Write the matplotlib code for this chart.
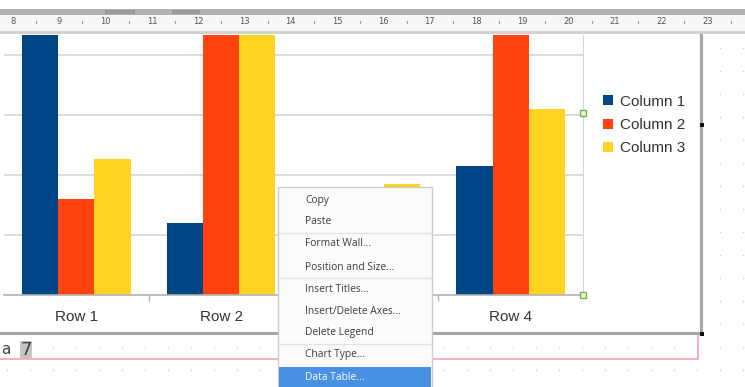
import matplotlib
matplotlib.use("Agg")
import matplotlib.pyplot as plt
import numpy as np
from matplotlib.patches import Rectangle

# chart data (LibreOffice default chart)
rows = ["Row 1", "Row 2", "Row 3", "Row 4"]
series = ["Column 1", "Column 2", "Column 3"]
col1 = [9.1, 2.4, 3.1, 4.3]
col2 = [3.2, 8.8, 1.5, 9.02]
col3 = [4.54, 9.65, 3.7, 6.2]
colors = ["#004586", "#ff420e", "#ffd320"]

ruler_nums = list(range(8, 24))
menu_items = ["Copy", "Paste", "Format Wall...", "Position and Size...",
              "Insert Titles...", "Insert/Delete Axes...", "Delete Legend",
              "Chart Type...", "Data Table..."]
menu_y = [200, 222, 244, 267, 289, 311, 333, 355, 377]
menu_seps = [233, 278, 344]

W, H = 745, 387
fig = plt.figure(figsize=(W / 100, H / 100), dpi=100, facecolor="white")

def fx(px):
    return px / W

def fy(py):
    return 1 - py / H

# background layer: dotted page, chart frame, pink border
bg = fig.add_axes([0, 0, 1, 1], zorder=0)
bg.set_xlim(0, W)
bg.set_ylim(H, 0)
bg.axis("off")
dx = np.arange(7, W, 23)
dy = np.arange(48, H, 23)
gx, gy = np.meshgrid(dx, dy)
bg.scatter(gx.ravel(), gy.ravel(), s=1.2, color="#cfcfcf", lw=0)
bg.add_patch(Rectangle((0, 33), 701, 300, facecolor="white", edgecolor="none"))
bg.plot([0, 698, 698], [359, 359, 335], color="#f2a4ad", lw=1.2)
bg.plot([701, 701], [33, 333], color="#a6a6a6", lw=2.2)
bg.plot([0, 702], [333, 333], color="#a6a6a6", lw=2.2)
bg.text(1, 350, "a", fontsize=11, color="#444444", va="center", ha="left",
        family="DejaVu Sans")
bg.add_patch(Rectangle((20, 341), 12, 17, facecolor="#c4c4c4", edgecolor="none"))
bg.text(21, 350, "7", fontsize=13, color="#444444", va="center", ha="left",
        family="DejaVu Sans")

# the bar chart
left, right, top, bottom = 4, 583, 35, 295
ax = fig.add_axes([fx(left), fy(bottom), fx(right - left), (bottom - top) / H], zorder=1)
x = np.arange(len(rows))
width = 0.25
ax.bar(x - width, col1, width, color=colors[0], label=series[0], zorder=2)
ax.bar(x, col2, width, color=colors[1], label=series[1], zorder=2)
ax.bar(x + width, col3, width, color=colors[2], label=series[2], zorder=2)
ax.set_xlim(-0.5, 3.5)
ax.set_ylim(0, (bottom - top) / 30)
ax.set_yticks([2, 4, 6, 8])
ax.yaxis.grid(True, color="#d6d6d6", lw=1.2)
ax.tick_params(axis="y", length=0, labelleft=False)
ax.set_xticks(x)
ax.set_xticklabels(rows, fontsize=11, color="#333333", family="Liberation Sans")
# Row 3's label sits under the context menu
ax.get_xticklabels()[2].set_visible(False)
ax.set_xticks([0.5, 1.5, 2.5], minor=True)
ax.tick_params(axis="x", which="major", length=0, pad=11)
ax.tick_params(axis="x", which="minor", length=4, color="#b3b3b3", width=1)
for s in ["top", "left"]:
    ax.spines[s].set_visible(False)
ax.spines["right"].set_color("#d6d6d6")
ax.spines["bottom"].set_color("#b3b3b3")
ax.spines["bottom"].set_linewidth(1.2)
ax.legend(loc="center left", bbox_to_anchor=(fx(589), fy(125)),
          bbox_transform=fig.transFigure, frameon=False,
          prop={"family": "Liberation Sans", "size": 11},
          handlelength=0.65, handleheight=0.65, handletextpad=0.45,
          labelspacing=0.62, labelcolor="#333333")

# overlay: ruler, handles, context menu
ov = fig.add_axes([0, 0, 1, 1], zorder=3)
ov.set_xlim(0, W)
ov.set_ylim(H, 0)
ov.axis("off")
ov.patch.set_alpha(0)
ov.add_patch(Rectangle((0, 0), W, 9, facecolor="white", edgecolor="none"))
ov.add_patch(Rectangle((0, 9), W, 6, facecolor="#b3b3b3", edgecolor="none"))
ov.add_patch(Rectangle((105, 10), 30, 4, facecolor="#9a9a9a", edgecolor="none"))
ov.add_patch(Rectangle((172, 10), 28, 4, facecolor="#9a9a9a", edgecolor="none"))
ov.add_patch(Rectangle((0, 15), W, 18, facecolor="#f7f7f7", edgecolor="none"))
ov.add_patch(Rectangle((0, 31), W, 3, facecolor="#d2d2d2", edgecolor="none"))
for i, n in enumerate(ruler_nums):
    px = 13 + i * 46.3
    ov.text(px, 22, str(n), fontsize=6, color="#555555", ha="center", va="center")
    ov.plot([px + 23.15, px + 23.15], [21, 23], color="#9a9a9a", lw=0.8)

# selection handles
for hx, hy in [(583, 113), (583, 295)]:
    ov.add_patch(Rectangle((hx - 3, hy - 3), 6, 6, facecolor="#e6f2d9",
                           edgecolor="#7cb342", lw=1))
for hx, hy in [(702, 125), (702, 334)]:
    ov.add_patch(Rectangle((hx - 2, hy - 2), 4, 4, facecolor="#111111", edgecolor="none"))

# context menu
ov.add_patch(Rectangle((278, 187), 154, 205, facecolor="#fbfbfb",
                       edgecolor="#cccccc", lw=1))
for sy in menu_seps:
    ov.plot([279, 431], [sy, sy], color="#e2e2e2", lw=1)
ov.add_patch(Rectangle((279, 367), 152, 22, facecolor="#4a90e2", edgecolor="none"))
for label, my in zip(menu_items, menu_y):
    c = "white" if label == "Data Table..." else "#3d3d3d"
    ov.text(305, my, label, fontsize=7.4, color=c, ha="left", va="center",
            family="Open Sans")

fig.savefig("out.png", dpi=100)
